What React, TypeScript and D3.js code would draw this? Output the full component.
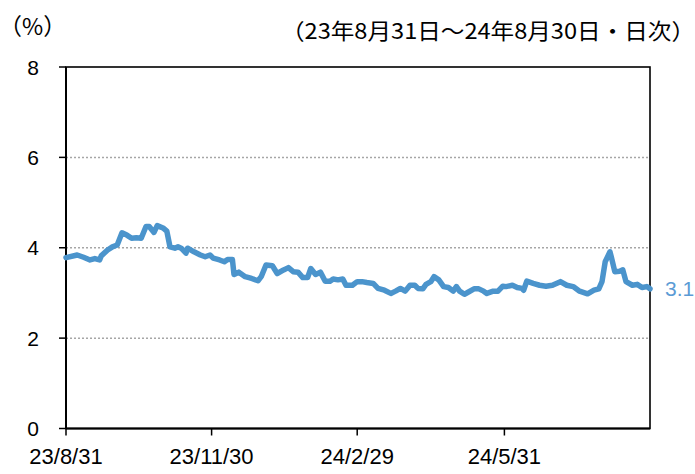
import React from "react";
import * as d3 from "d3";

const dates: string[] = [
  "2023-08-31","2023-09-07","2023-09-11","2023-09-15","2023-09-18","2023-09-21","2023-09-22","2023-09-26","2023-09-29",
  "2023-10-02","2023-10-05","2023-10-08","2023-10-11","2023-10-14","2023-10-17","2023-10-20","2023-10-22","2023-10-25","2023-10-27","2023-10-31",
  "2023-11-02","2023-11-04","2023-11-07","2023-11-09","2023-11-11","2023-11-14","2023-11-15","2023-11-19","2023-11-23","2023-11-26","2023-11-29",
  "2023-12-01","2023-12-05","2023-12-08","2023-12-10","2023-12-13","2023-12-14","2023-12-17","2023-12-21","2023-12-25","2023-12-29","2023-12-31",
  "2024-01-03","2024-01-07","2024-01-10","2024-01-14","2024-01-17","2024-01-20","2024-01-23","2024-01-26","2024-01-29","2024-01-31",
  "2024-02-03","2024-02-06","2024-02-09","2024-02-12","2024-02-14","2024-02-17","2024-02-20","2024-02-22","2024-02-26","2024-02-29",
  "2024-03-03","2024-03-06","2024-03-10","2024-03-13","2024-03-17","2024-03-21","2024-03-24","2024-03-27","2024-03-30",
  "2024-04-02","2024-04-05","2024-04-07","2024-04-10","2024-04-12","2024-04-15","2024-04-17","2024-04-20","2024-04-23","2024-04-26","2024-04-29",
  "2024-05-01","2024-05-03","2024-05-06","2024-05-08","2024-05-12","2024-05-15","2024-05-18","2024-05-20","2024-05-24","2024-05-27","2024-05-30",
  "2024-06-01","2024-06-05","2024-06-08","2024-06-11","2024-06-12","2024-06-14","2024-06-18","2024-06-22","2024-06-26","2024-06-30",
  "2024-07-05","2024-07-09","2024-07-13","2024-07-17","2024-07-22","2024-07-26","2024-07-29","2024-07-31",
  "2024-08-02","2024-08-05","2024-08-06","2024-08-08","2024-08-11","2024-08-13","2024-08-15","2024-08-19","2024-08-22","2024-08-25","2024-08-28","2024-08-30",
];

const yields: number[] = [
  3.78,3.84,3.79,3.73,3.76,3.73,3.82,3.95,4.02,
  4.06,4.33,4.28,4.21,4.22,4.21,4.47,4.47,4.34,4.49,4.43,
  4.37,4.02,3.99,4.02,3.99,3.88,3.99,3.91,3.84,3.80,3.84,
  3.77,3.73,3.69,3.74,3.74,3.41,3.46,3.36,3.32,3.27,3.36,
  3.62,3.60,3.43,3.51,3.56,3.47,3.46,3.34,3.34,3.54,
  3.41,3.46,3.26,3.26,3.31,3.29,3.31,3.17,3.17,3.25,
  3.25,3.23,3.21,3.10,3.06,2.99,3.04,3.10,3.04,
  3.17,3.17,3.10,3.09,3.19,3.25,3.36,3.29,3.14,3.12,3.04,
  3.14,3.04,2.97,3.01,3.09,3.09,3.04,2.99,3.04,3.04,3.15,
  3.14,3.17,3.12,3.10,3.06,3.26,3.21,3.17,3.15,3.17,
  3.25,3.17,3.14,3.04,2.98,3.06,3.09,3.25,
  3.69,3.91,3.77,3.47,3.48,3.51,3.25,3.17,3.19,3.12,3.14,3.09,
];

const xTickDates: string[] = ["2023-08-31", "2023-11-30", "2024-02-29", "2024-05-31"];
const xTickLabels: string[] = ["23/8/31", "23/11/30", "24/2/29", "24/5/31"];
const yTicks: number[] = [0, 2, 4, 6, 8];
const gridTicks: number[] = [2, 4, 6];
const title = "（23年8月31日～24年8月30日・日次）";
const unitLabel = "（%）";
const endLabel = "3.1";

const W = 695;
const H = 474;
const plot = { left: 66, right: 650, top: 67, bottom: 428.5 };
const latin = "'Liberation Sans', Arial, sans-serif";
const cjk = "'Noto Sans CJK JP', 'Noto Sans', sans-serif";
const lineColor = "#4B94CC";

export default function App() {
  const parse = d3.timeParse("%Y-%m-%d");
  const data = dates.map((d, i) => ({ date: parse(d) as Date, v: yields[i] }));
  const x = d3
    .scaleTime()
    .domain([parse("2023-08-31") as Date, parse("2024-08-30") as Date])
    .range([plot.left, plot.right]);
  const y = d3.scaleLinear().domain([0, 8]).range([plot.bottom, plot.top]);
  const line = d3
    .line<{ date: Date; v: number }>()
    .x((d) => x(d.date))
    .y((d) => y(d.v))
    .curve(d3.curveLinear);
  const last = data[data.length - 1];

  return (
    <svg
      width={W}
      height={H}
      style={{ position: "absolute", left: 0, top: 0, display: "block", background: "#fff" }}
    >
      {gridTicks.map((t) => (
        <line
          key={t}
          x1={plot.left}
          x2={plot.right}
          y1={y(t)}
          y2={y(t)}
          stroke="#a6a6a6"
          strokeWidth={1.5}
          strokeDasharray="2,2"
        />
      ))}
      <rect
        x={plot.left}
        y={plot.top}
        width={plot.right - plot.left}
        height={plot.bottom - plot.top}
        fill="none"
        stroke="#000"
        strokeWidth={1.6}
      />
      <line x1={plot.left} x2={plot.left} y1={plot.top} y2={plot.bottom} stroke="#000" strokeWidth={2} />
      <line x1={plot.left} x2={plot.right} y1={plot.bottom} y2={plot.bottom} stroke="#000" strokeWidth={2} />
      {yTicks.map((t) => (
        <g key={t}>
          <line x1={plot.left - 7} x2={plot.left} y1={y(t)} y2={y(t)} stroke="#000" strokeWidth={1.5} />
          <text
            x={39}
            y={y(t)}
            dy="0.36em"
            textAnchor="end"
            fontFamily={latin}
            fontSize={21}
            fill="#000"
          >
            {t}
          </text>
        </g>
      ))}
      {xTickDates.map((d, i) => {
        const xp = x(parse(d) as Date);
        return (
          <g key={d}>
            <line x1={xp} x2={xp} y1={plot.bottom} y2={plot.bottom + 7} stroke="#000" strokeWidth={1.5} />
            <text x={xp} y={464} textAnchor="middle" fontFamily={latin} fontSize={22} fill="#000">
              {xTickLabels[i]}
            </text>
          </g>
        );
      })}
      <path d={line(data) || ""} fill="none" stroke={lineColor} strokeWidth={5.5} strokeLinejoin="round" strokeLinecap="round" />
      <text x={x(last.date) + 15} y={y(last.v)} dy="0.36em" fontFamily={latin} fontSize={21} fill="#5B9BD5">
        {endLabel}
      </text>
      <text x={-1} y={35} fontFamily={cjk} fontSize={23} fill="#000">
        {unitLabel}
      </text>
      <text
        x={281}
        y={39}
        textLength={414}
        lengthAdjust="spacingAndGlyphs"
        fontFamily={cjk}
        fontSize={22}
        fill="#000"
      >
        {title}
      </text>
    </svg>
  );
}
